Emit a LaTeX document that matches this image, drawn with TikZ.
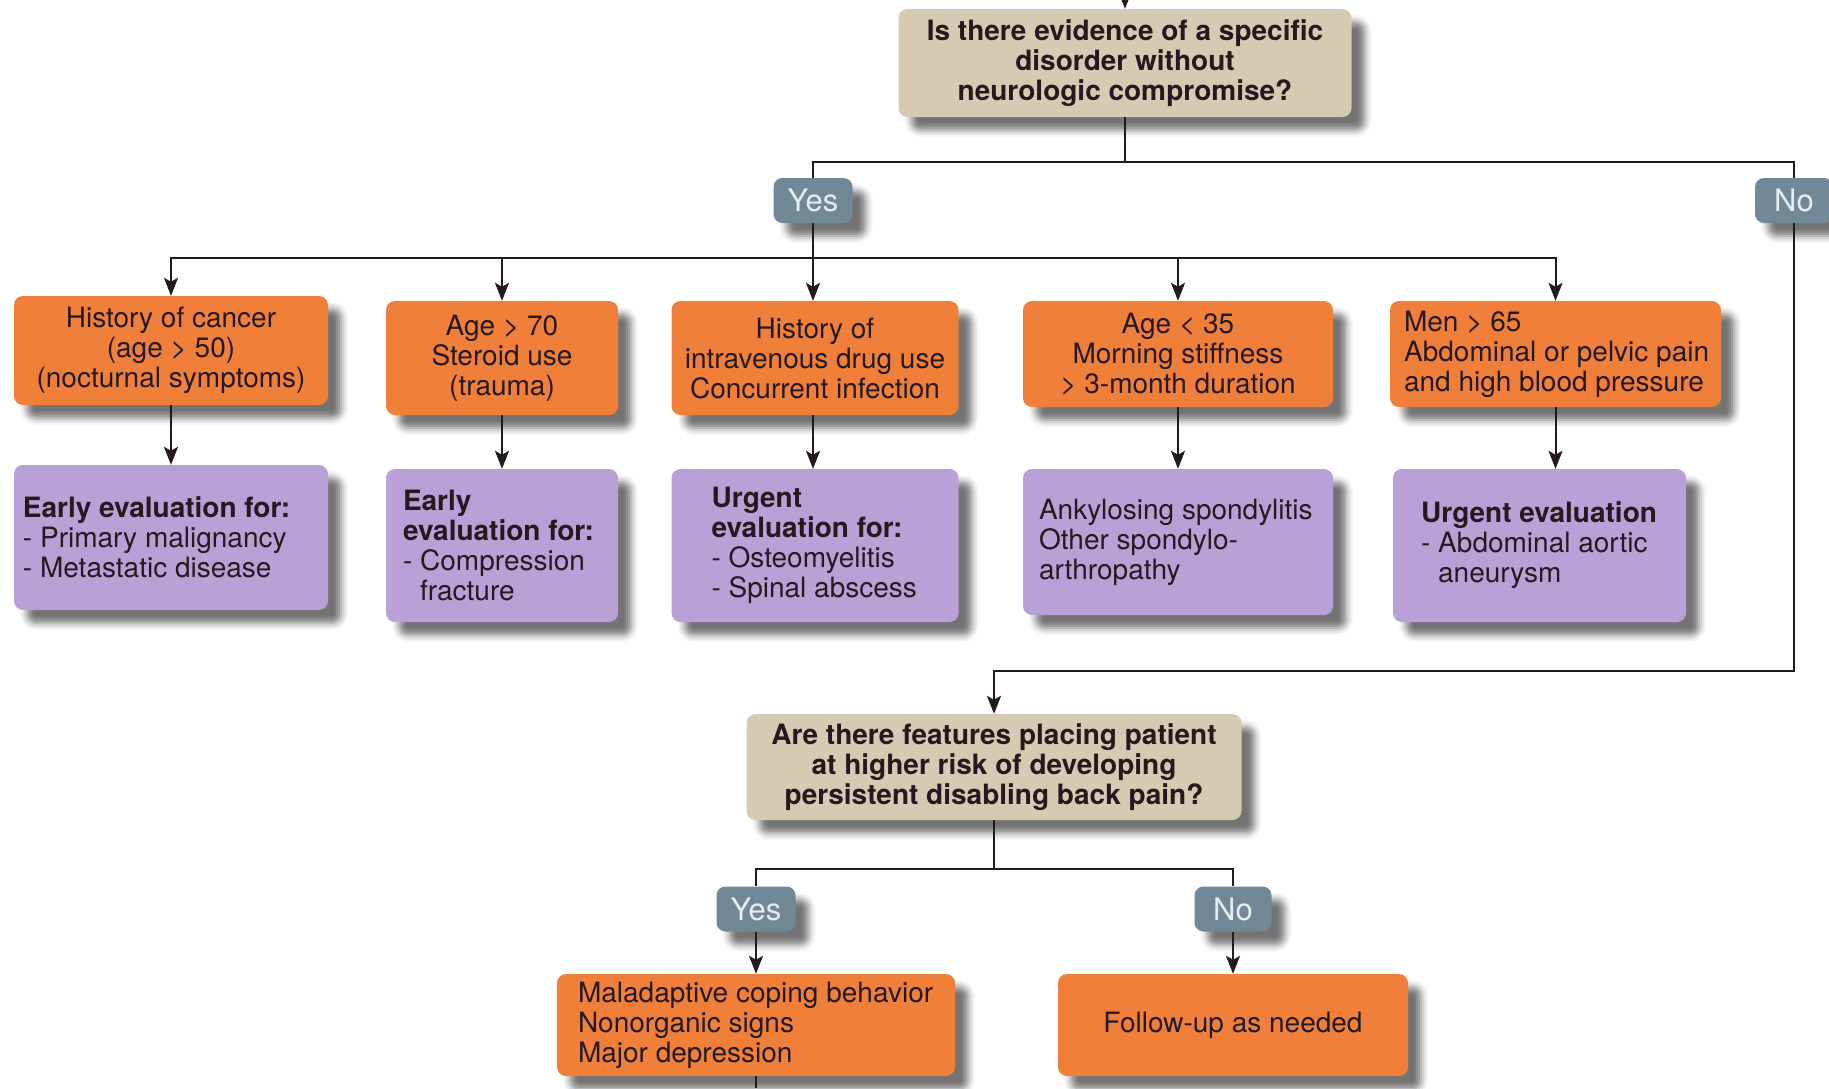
\documentclass[tikz,border=0pt]{standalone}
\usepackage{fontspec}
\setmainfont{TeX Gyre Heros}
\usetikzlibrary{arrows.meta,shadows.blur}

\definecolor{ink}{RGB}{35,25,30}
\definecolor{beige}{RGB}{214,203,178}
\definecolor{orangebox}{RGB}{240,127,58}
\definecolor{purplebox}{RGB}{185,160,215}
\definecolor{answergray}{RGB}{113,136,151}
\definecolor{answertext}{RGB}{232,237,241}

\tikzset{
  base/.style={rounded corners=9pt, inner sep=0pt, text=ink,
    font=\fontsize{28}{30}\selectfont,
    blur shadow={shadow xshift=13pt, shadow yshift=-13pt,
      shadow blur radius=7pt, shadow opacity=55}},
  question/.style={base, fill=beige, align=center,
    font=\bfseries\fontsize{28}{30}\selectfont},
  factor/.style={base, fill=orangebox, align=center},
  result/.style={base, fill=purplebox},
  answer/.style={base, fill=answergray, text=answertext,
    font=\fontsize{31}{33}\selectfont, minimum height=45pt},
  boxtext/.style={inner sep=0pt, align=left, anchor=west, text=ink,
    font=\fontsize{28}{30}\selectfont},
  link/.style={line width=2pt, draw=ink},
  arrow/.style={link, -{Stealth[length=18pt,width=14pt,inset=4pt]}},
}

\begin{document}
\begin{tikzpicture}[x=1pt,y=-1pt]
\useasboundingbox (0,0) rectangle (1829,1088);

% first question
\node[question, minimum width=453pt, minimum height=108pt] (q1) at (1125,63)
  {Is there evidence of a specific\\disorder without\\neurologic compromise?};
\node[answer, minimum width=79pt] (yes1) at (813,200.5) {Yes};
\node[answer, minimum width=78pt] (no1) at (1794,200.5) {No};

% red-flag findings
\node[factor, minimum width=314pt, minimum height=109pt] (o1) at (171,350.5)
  {History of cancer\\(age > 50)\\(nocturnal symptoms)};
\node[factor, minimum width=232pt, minimum height=114pt] (o2) at (502,358)
  {Age > 70\\Steroid use\\(trauma)};
\node[factor, minimum width=287pt, minimum height=114pt] (o3) at (815,358)
  {History of\\intravenous drug use\\Concurrent infection};
\node[factor, minimum width=310pt, minimum height=106pt] (o4) at (1178,354)
  {Age < 35\\Morning stiffness\\> 3-month duration};
\node[factor, minimum width=331pt, minimum height=106pt] (o5) at (1555.5,354) {};
\node[boxtext] (o5t) at ([xshift=14pt]o5.west)
  {Men > 65\\Abdominal or pelvic pain\\and high blood pressure};

% evaluations
\node[result, minimum width=314pt, minimum height=145pt] (p1) at (171,537.5) {};
\node[boxtext] (p1t) at ([xshift=9pt]p1.west)
  {\textbf{Early evaluation for:}\\- Primary malignancy\\- Metastatic disease};
\node[result, minimum width=232pt, minimum height=153pt] (p2) at (502,545.5) {};
\node[boxtext] (p2t) at ([xshift=17pt]p2.west)
  {\textbf{Early}\\\textbf{evaluation for:}\\- Compression\\\hphantom{-~}fracture};
\node[result, minimum width=287pt, minimum height=153pt] (p3) at (815,545.5) {};
\node[boxtext] (p3t) at ([xshift=40pt]p3.west)
  {\textbf{Urgent}\\\textbf{evaluation for:}\\- Osteomyelitis\\- Spinal abscess};
\node[result, minimum width=310pt, minimum height=146pt] (p4) at (1178,542) {};
\node[boxtext] (p4t) at ([xshift=16pt]p4.west)
  {Ankylosing spondylitis\\Other spondylo-\\arthropathy};
\node[result, minimum width=293pt, minimum height=153pt] (p5) at (1539.5,545.5) {};
\node[boxtext] (p5t) at ([xshift=28pt]p5.west)
  {\textbf{Urgent evaluation}\\- Abdominal aortic\\\hphantom{-~}aneurysm};

% second question
\node[question, minimum width=495pt, minimum height=106pt] (q2) at (994,767)
  {Are there features placing patient\\at higher risk of developing\\persistent disabling back pain?};
\node[answer, minimum width=79pt] (yes2) at (756,909) {Yes};
\node[answer, minimum width=77pt] (no2) at (1233,909) {No};

\node[factor, minimum width=398pt, minimum height=102pt] (b1) at (756,1025) {};
\node[boxtext] (b1t) at ([xshift=21pt]b1.west)
  {Maladaptive coping behavior\\Nonorganic signs\\Major depression};
\node[factor, minimum width=350pt, minimum height=102pt] (b2) at (1233,1025)
  {Follow-up as needed};

% junction points of the connectors
\coordinate (topin) at (1125,0);
\coordinate (j1) at (1125,162);
\coordinate (j2) at (813,258);
\coordinate (bend) at (994,671);
\coordinate (j4) at (994,869);
\coordinate (botout) at (756,1088);

% connectors
\draw[arrow] (topin) -- (q1.north);
\draw[link] (q1.south) -- (j1);
\draw[link] (yes1.north) |- (j1) -| (no1.north);
\draw[link] (yes1.south) -- (j2);
\draw[arrow] (j2) -| (o1.north);
\draw[arrow] (j2) -| (o2.north);
\draw[arrow] (j2) -- (j2 |- o3.north);
\draw[arrow] (j2) -| (o4.north);
\draw[arrow] (j2) -| (o5.north);

\draw[arrow] (o1.south) -- (p1.north);
\draw[arrow] (o2.south) -- (p2.north);
\draw[arrow] (j2 |- o3.south) -- (j2 |- p3.north);
\draw[arrow] (o4.south) -- (p4.north);
\draw[arrow] (o5.south) -- (o5.south |- p5.north);

\draw[arrow] (no1.south) |- (bend) -- (q2.north);
\draw[link] (q2.south) -- (j4);
\draw[link] (yes2.north) |- (j4) -| (no2.north);
\draw[arrow] (yes2.south) -- (b1.north);
\draw[arrow] (no2.south) -- (b2.north);
\draw[link] (b1.south) -- (botout);
\end{tikzpicture}
\end{document}
